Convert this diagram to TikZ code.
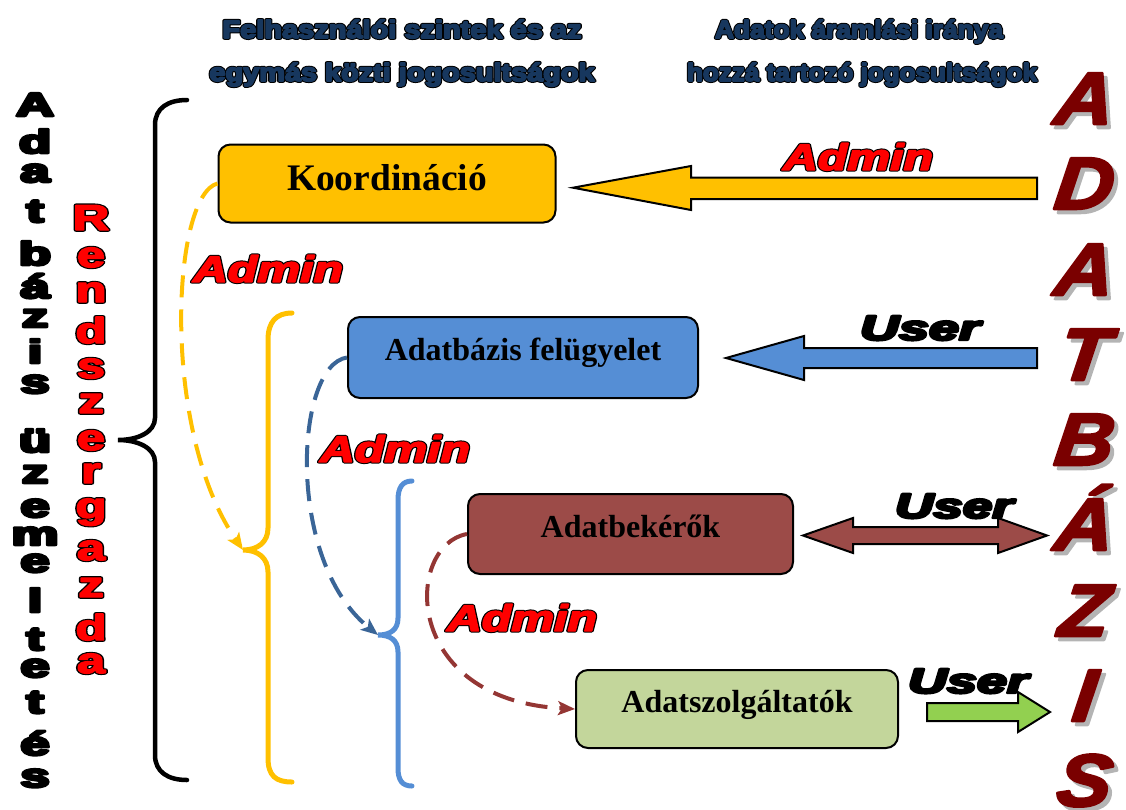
\documentclass[tikz,border=0pt]{standalone}
\usepackage{fontspec}
\usepackage{graphicx}
\setmainfont{Liberation Serif}
\newfontfamily\arl{Liberation Sans}
\usetikzlibrary{arrows.meta}
\definecolor{yel}{HTML}{FFC000}
\definecolor{boxblue}{HTML}{558ED5}
\definecolor{boxred}{HTML}{9C4B48}
\definecolor{boxgreen}{HTML}{C3D69B}
\definecolor{grarrow}{HTML}{92D050}
\definecolor{dashblue}{HTML}{3A6597}
\definecolor{dashred}{HTML}{943634}
\definecolor{navy}{HTML}{17375E}
\definecolor{adat}{HTML}{7A0000}
\definecolor{shad}{HTML}{B4B4B4}
% stroke the glyphs (colour, width) over their fill
\newcommand\strk[3]{\special{pdf:literal direct #1 RG #2 w 1 j 2 Tr}#3\special{pdf:literal direct 0 Tr}}
% black outline (outer width) plus same-colour thickening (inner width)
\newcommand\heavy[4]{\rlap{\strk{0 0 0}{#2}{#4}}\strk{#1}{#3}{#4}}
\tikzset{
  hdr/.style={anchor=base, inner sep=0pt, text=navy, font=\arl\bfseries\fontsize{25}{25}\selectfont},
  adm/.style={anchor=base, inner sep=0pt, text=red, font=\arl\bfseries\itshape\fontsize{37}{37}\selectfont},
  usr/.style={anchor=base, inner sep=0pt, text=black, font=\arl\bfseries\itshape\fontsize{35}{35}\selectfont},
  vblack/.style={anchor=base, inner sep=0pt, text=black, font=\arl\bfseries\fontsize{33}{33}\selectfont},
  vred/.style={anchor=base, inner sep=0pt, text=red, font=\arl\bfseries\fontsize{36}{36}\selectfont},
  vbig/.style={anchor=base, inner sep=0pt, xslant=0.12, transform shape, font=\arl\bfseries\itshape\fontsize{74}{74}\selectfont},
  box/.style={draw=black, line width=2pt, rounded corners=12pt, inner sep=0pt,
    text height=0.66em, text depth=0pt, font=\bfseries\fontsize{32}{32}\selectfont},
  brace/.style={line width=5pt, line cap=round},
  dcon/.style={line width=4pt, dash pattern=on 22pt off 12pt,
    -{Stealth[length=17pt,width=14pt,inset=4pt]}},
  blockarrow/.style={draw=black, line width=2pt, line join=miter},
}
\begin{document}
\begin{tikzpicture}[x=1pt,y=-1pt]
\useasboundingbox (0,0) rectangle (1126,809);

% headers
\node[hdr] (h1) at (402,38) {\resizebox{359pt}{\height}{\heavy{0.09 0.216 0.369}{3.6}{1.6}{Felhasználói szintek és az}}};
\node[hdr] (h2) at (402,81) {\resizebox{385pt}{\height}{\heavy{0.09 0.216 0.369}{3.6}{1.6}{egymás közti jogosultságok}}};
\node[hdr] (h3) at (859,38) {\resizebox{288pt}{\height}{\heavy{0.09 0.216 0.369}{3.6}{1.6}{Adatok áramlási iránya}}};
\node[hdr] (h4) at (862,81) {\resizebox{350pt}{\height}{\heavy{0.09 0.216 0.369}{3.6}{1.6}{hozzá tartozó jogosultságok}}};

% left vertical black text
\foreach \ch/\yy [count=\i] in {A/116,d/153,a/182,t/222,b/265,á/298,z/327,i/363,s/393,ü/452,z/483,e/517,m/545,e/572,l/612,t/650,e/677,t/713,é/755,s/787}
  \node[vblack] (v\i) at (35,\yy) {\scalebox{1.6}[1]{\strk{0 0 0}{2.6}{\ch}}};

% red vertical text
\foreach \ch/\yy [count=\i] in {R/230,e/267,n/302,d/343,s/378,z/413,e/450,r/483,g/518,a/560,z/597,d/640,a/673}
  \node[vred] (r\i) at (91,\yy) {\scalebox{1.4}[1]{\heavy{1 0 0}{3.6}{1.4}{\ch}}};

% right big ADATBÁZIS
\foreach \ch/\yy [count=\i] in {A/124,D/209,A/295,T/380,B/465,Á/550,Z/636,I/721,S/806}{
  \node[vbig, text=shad] (s\i) at (1086,\yy+4) {\scalebox{1.1}[1]{\strk{0.706 0.706 0.706}{2.5}{\ch}}};
  \node[vbig, text=adat] (a\i) at (1082,\yy) {\scalebox{1.1}[1]{\strk{0.478 0 0}{2.5}{\ch}}};
}

% braces
\coordinate (ktip) at (118,440);
\coordinate (ytip) at (243,550);
\coordinate (btip) at (378,635);
\draw[brace, black, line width=4.5pt] (187,100) .. controls (168,100) and (155,108) .. (155,125) -- (155,418)
  .. controls (155,432) and (138,440) .. (ktip) .. controls (138,440) and (155,448) .. (155,462)
  -- (155,755) .. controls (155,772) and (168,780) .. (187,780);
\draw[brace, yel] (292,313) .. controls (276,313) and (268,322) .. (268,340) -- (268,528)
  .. controls (268,542) and (258,550) .. (ytip) .. controls (258,550) and (268,558) .. (268,572)
  -- (268,758) .. controls (268,776) and (276,782) .. (292,782);
\draw[brace, boxblue] (412,481) .. controls (402,481) and (398,488) .. (398,500) -- (398,618)
  .. controls (398,630) and (390,635) .. (btip) .. controls (390,635) and (398,640) .. (398,652)
  -- (398,768) .. controls (398,780) and (402,786) .. (412,786);

% boxes
\node[box, fill=yel, minimum width=337pt, minimum height=78pt, font=\bfseries\fontsize{37.5}{38}\selectfont] (koord) at (387,183.5) {\raisebox{-4pt}{Koordináció}};
\node[box, fill=boxblue, minimum width=350pt, minimum height=81pt] (felug) at (523,357.5) {Adatbázis felügyelet};
\node[box, fill=boxred, minimum width=325pt, minimum height=80pt] (beker) at (630.5,534) {Adatbekérők};
\node[box, fill=boxgreen, minimum width=322pt, minimum height=78pt] (szolg) at (737,709) {Adatszolgáltatók};

% dashed connectors
\draw[dcon, yel] (koord.west) .. controls (172,195) and (160,430) .. (ytip);
\draw[dcon, dashblue] (felug.west) .. controls (295,365) and (285,560) .. (btip);
\draw[dcon, dashred] (beker.west) .. controls (405,545) and (400,700) .. (szolg.west);

% block arrows
\draw[blockarrow, fill=yel] (1037,177.7) -- (691,177.7) -- (691,166) -- (573,187.7) -- (691,210) -- (691,199) -- (1037,199) -- cycle;
\draw[blockarrow, fill=boxblue] (1037,348) -- (804,348) -- (804,336) -- (726,358) -- (804,380) -- (804,368) -- (1037,368) -- cycle;
\draw[blockarrow, fill=boxred] (853,527) -- (998,527) -- (998,518) -- (1047,535.5) -- (998,553) -- (998,544) -- (853,544) -- (853,553) -- (803,535.5) -- (853,518) -- cycle;
\draw[blockarrow, fill=grarrow] (927,703) -- (1018,703) -- (1018,692) -- (1050,712) -- (1018,732) -- (1018,721) -- (927,721) -- cycle;

% labels
\node[adm] (ad1) at (858,170) {\resizebox{150pt}{\height}{\heavy{1 0 0}{3.4}{1.4}{Admin}}};
\node[adm] (ad2) at (268,282) {\resizebox{150pt}{\height}{\heavy{1 0 0}{3.4}{1.4}{Admin}}};
\node[adm] (ad3) at (395,462) {\resizebox{150pt}{\height}{\heavy{1 0 0}{3.4}{1.4}{Admin}}};
\node[adm] (ad4) at (522,631) {\resizebox{150pt}{\height}{\heavy{1 0 0}{3.4}{1.4}{Admin}}};
\node[usr] (u1) at (920,340) {\resizebox{120pt}{\height}{\strk{0 0 0}{2.4}{User}}};
\node[usr] (u2) at (954,518) {\resizebox{118pt}{\height}{\strk{0 0 0}{2.4}{User}}};
\node[usr] (u3) at (968,693) {\resizebox{120pt}{\height}{\strk{0 0 0}{2.4}{User}}};
\end{tikzpicture}
\end{document}
